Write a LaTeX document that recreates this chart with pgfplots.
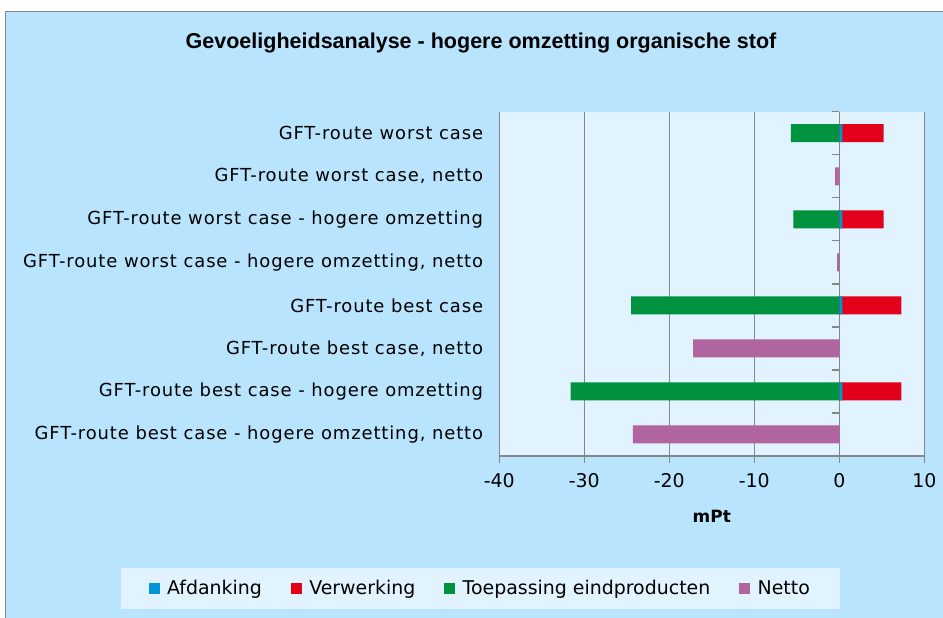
\documentclass[border=0pt]{standalone}
\usepackage{pgfplots}
\pgfplotsset{compat=1.18}
\usepackage{fontspec}
\setmainfont{DejaVu Sans}
\newfontfamily\catfont[LetterSpace=5]{DejaVu Sans}
\newfontfamily\titlefont{Liberation Sans}

\definecolor{outerbg}{RGB}{185,228,254}
\definecolor{plotbg}{RGB}{224,243,255}
\definecolor{gridgray}{RGB}{135,135,135}
\definecolor{cafd}{RGB}{0,149,218}
\definecolor{cver}{RGB}{227,0,27}
\definecolor{ctoe}{RGB}{0,146,63}
\definecolor{cnet}{RGB}{176,101,158}

\begin{document}
\begin{tikzpicture}
\useasboundingbox (0,0) rectangle (943bp,618bp);
\fill[white] (0,0) rectangle (943bp,618bp);
\fill[outerbg] (5bp,0) rectangle (943bp,606bp);
\draw[gridgray, line width=1bp] (5bp,0) -- (5bp,606bp) -- (943bp,606bp);
\node[font=\titlefont\bfseries\fontsize{21.6}{24}\selectfont] at (481bp,575bp)
  {Gevoeligheidsanalyse - hogere omzetting organische stof};

\begin{axis}[
    scale only axis,
    width=425bp, height=344.3bp,
    at={(499.3bp,162bp)}, anchor=south west,
    xmin=-40, xmax=10,
    ymin=0.5, ymax=8.5, y dir=reverse,
    axis background/.style={fill=plotbg},
    axis x line*=bottom, axis y line*=left,
    y axis line style={draw=none},
    x axis line style={gridgray, line width=1.3bp, -},
    xtick={-40,-30,-20,-10,0,10},
    xticklabels={-40,-30,-20,-10,0,10},
    xmajorgrids,
    grid style={gridgray, line width=1.3bp},
    xtick style={gridgray, line width=1.3bp},
    tick align=outside,
    major tick length=7bp,
    ytick={1,...,8},
    yticklabels={GFT-route worst case,
                 {GFT-route worst case, netto},
                 GFT-route worst case - hogere omzetting,
                 {GFT-route worst case - hogere omzetting, netto},
                 GFT-route best case,
                 {GFT-route best case, netto},
                 GFT-route best case - hogere omzetting,
                 {GFT-route best case - hogere omzetting, netto}},
    ytick style={draw=none},
    yticklabel style={font=\catfont\fontsize{18}{20}\selectfont, inner sep=0pt, xshift=-9bp, anchor=east},
    xticklabel style={font=\fontsize{19}{22}\selectfont, inner sep=0pt, yshift=-10bp},
    xlabel={mPt},
    xlabel style={font=\bfseries\fontsize{17}{20}\selectfont, at={(axis description cs:0.5,-0.1743)}, anchor=center},
    xbar, bar shift=0pt, bar width=18bp,
    legend columns=4,
    legend style={at={(axis description cs:-0.0447,-0.3848)}, anchor=center,
        fill=plotbg, draw=none, inner xsep=28bp, inner ysep=11bp,
        font=\fontsize{19}{22}\selectfont,
        /tikz/every odd column/.append style={column sep=6bp},
        /tikz/every even column/.append style={column sep=27bp}},
    legend image code/.code={\fill[#1] (0bp,-5bp) rectangle (10bp,5bp);},
  ]
  \addlegendimage{cafd}\addlegendentry{Afdanking}
  \addlegendimage{cver}\addlegendentry{Verwerking}
  \addlegendimage{ctoe}\addlegendentry{Toepassing eindproducten}
  \addlegendimage{cnet}\addlegendentry{Netto}

  % Verwerking (drawn to the end of Afdanking + Verwerking)
  \addplot[forget plot, fill=cver, draw=none] coordinates {(5.2,1) (5.2,3) (7.3,5) (7.3,7)};
  % Afdanking
  \addplot[forget plot, fill=cafd, draw=none] coordinates {(0.35,1) (0.35,3) (0.35,5) (0.35,7)};
  % Toepassing eindproducten
  \addplot[forget plot, fill=ctoe, draw=none] coordinates {(-5.7,1) (-5.4,3) (-24.5,5) (-31.6,7)};
  % Netto
  \addplot[forget plot, fill=cnet, draw=none] coordinates {(-0.5,2) (-0.25,4) (-17.2,6) (-24.3,8)};

  % category separators on the zero line
  \pgfplotsinvokeforeach{0,...,8}{
    \draw[gridgray, line width=1.3bp] (axis cs:0,#1+0.5) -- (axis cs:-0.82,#1+0.5);
  }
\end{axis}
\end{tikzpicture}
\end{document}
